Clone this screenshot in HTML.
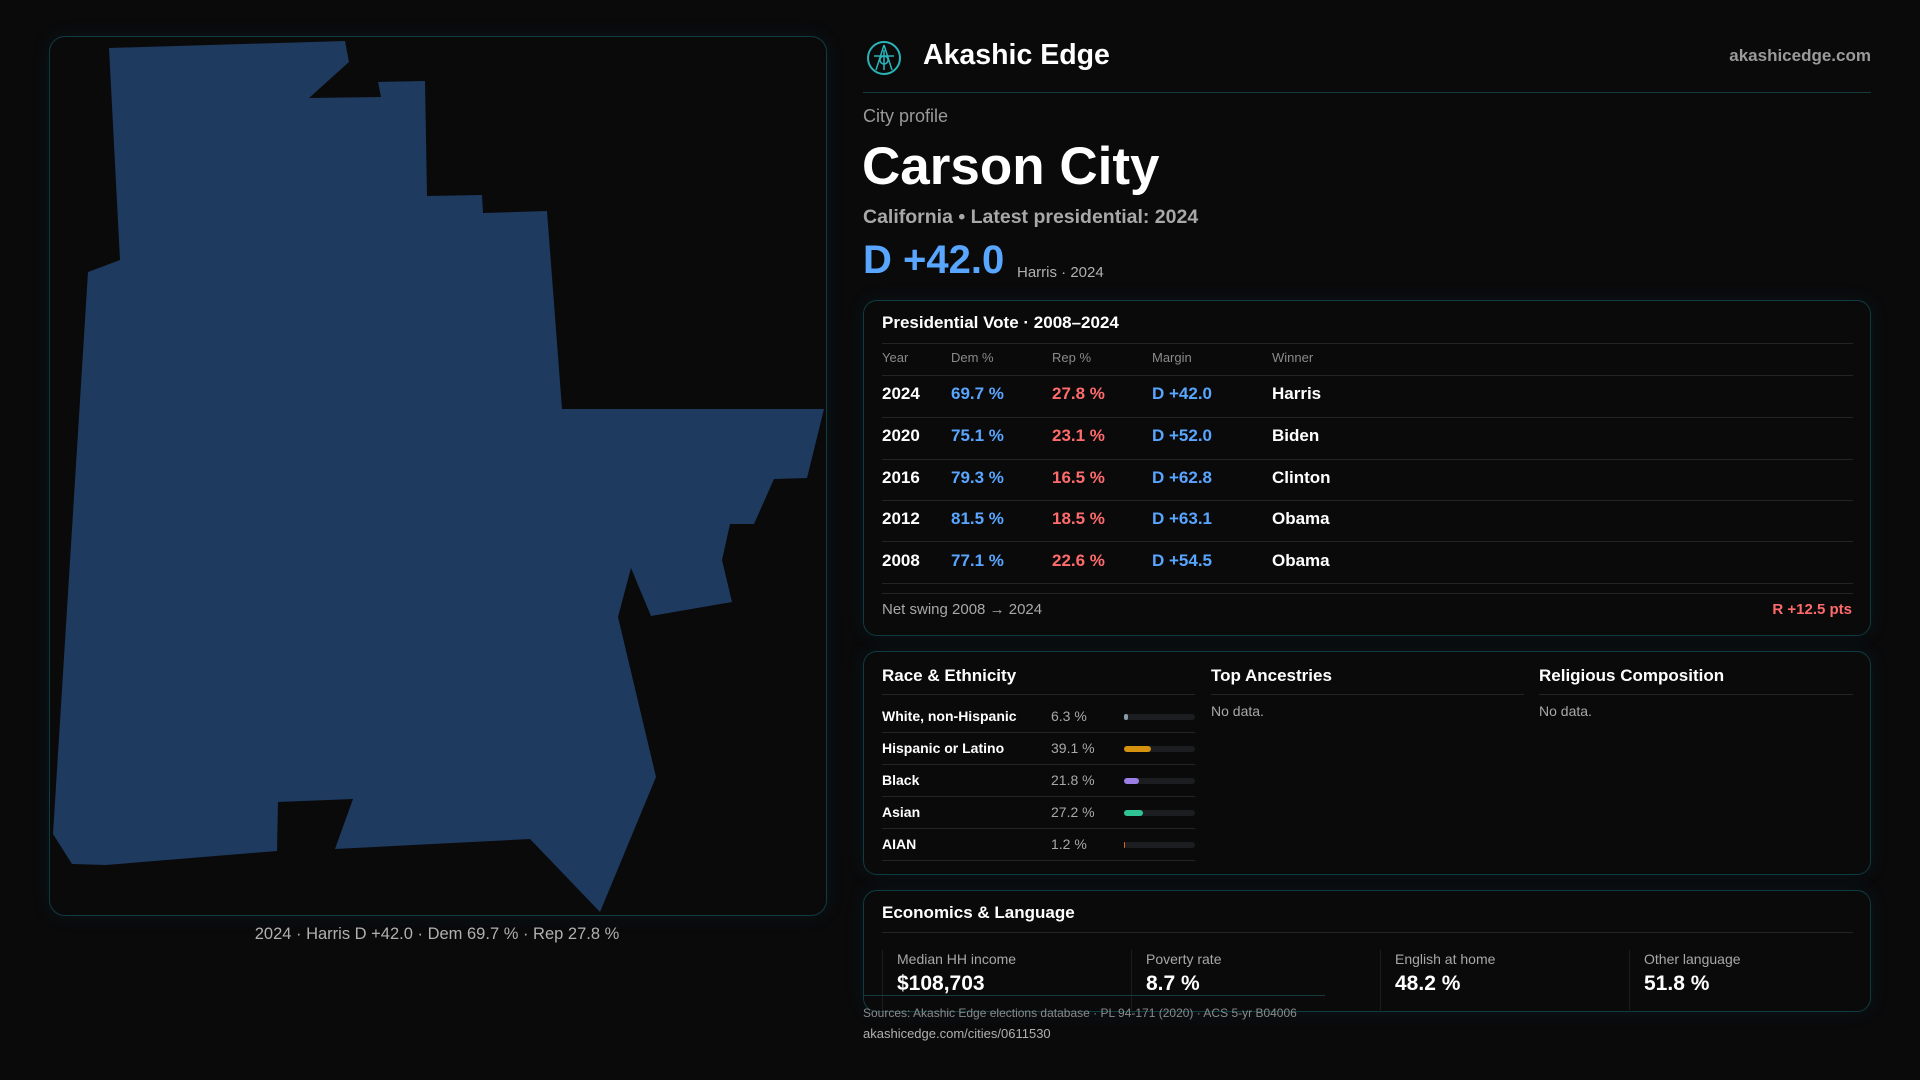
<!DOCTYPE html>
<html><head><meta charset="utf-8"><style>
*{margin:0;padding:0;box-sizing:border-box}
body{width:1920px;height:1080px;background:#0a0a0b;font-family:"Liberation Sans",sans-serif;color:#fff;position:relative;overflow:hidden}
.a{position:absolute;white-space:nowrap}
.card{position:absolute;border:1px solid #0f3b42;border-radius:14px;background:#0a0a0b;box-shadow:0 0 18px rgba(20,90,100,0.15)}
.hl{position:absolute;height:1px;background:#222426}
.g{color:#9a9a9a}
.b{color:#58a6ff}
.r{color:#ff6b6b}
.th{font-size:13px;color:#8a8a8a}
.td{font-size:17px;font-weight:bold}
.rl{font-size:14px;font-weight:bold}
.bar{position:absolute;height:6px;border-radius:3px;background:#1c1d20;width:71px;left:1124px}
.bar i{display:block;height:6px;border-radius:3px}
</style></head><body>
<div class="card" style="left:49px;top:36px;width:778px;height:880px;border-radius:16px"></div>
<svg class="a" style="left:0;top:0" width="1920" height="1080">
<polygon fill="#1e3a5f" points="109,48 345,41 349,62 309,98 381,97 378,82 425,81 427,196 482,195 483,213 547,211 562,409 824,409 807,478 774,479 754,524 730,524 722,560 732,602 651,616 631,568 618,617 656,777 600,912 530,839 335,849 353,799 278,802 277,851 106,865 72,864 53,834 88,272 120,260"/>
</svg>
<div class="a g" style="left:0;width:874px;text-align:center;top:925px;font-size:16.5px;color:#b0b0b0">2024 · Harris D +42.0 · Dem 69.7 % · Rep 27.8 %</div>

<svg class="a" style="left:866px;top:40px" width="36" height="36" viewBox="0 0 36 36"><circle cx="18" cy="18" r="16" fill="none" stroke="#2bb3b8" stroke-width="2"/><path d="M18 5 L10 30 M18 5 L26 30 M8 16 L28 16 M18 10 L18 30" stroke="#2bb3b8" stroke-width="1.5" fill="none"/><circle cx="18" cy="20" r="4" fill="none" stroke="#2bb3b8" stroke-width="1.5"/></svg>
<div class="a" style="left:923px;top:39px;font-size:28.5px;font-weight:bold">Akashic Edge</div>
<div class="a" style="right:49px;top:46px;font-size:17px;font-weight:bold;color:#9a9a9a">akashicedge.com</div>
<div class="hl" style="left:863px;width:1008px;top:92px;background:#173a40"></div>
<div class="a" style="left:863px;top:106px;font-size:18px;color:#9a9a9a">City profile</div>
<div class="a" style="left:862px;top:136px;font-size:53px;font-weight:bold">Carson City</div>
<div class="a" style="left:863px;top:206px;font-size:19.5px;font-weight:bold;color:#a8a8a8">California • Latest presidential: 2024</div>
<div class="a b" style="left:863px;top:238px;font-size:40px;font-weight:bold">D +42.0</div>
<div class="a" style="left:1017px;top:264px;font-size:15px;color:#b0b0b0">Harris · 2024</div>

<div class="card" style="left:863px;top:300px;width:1008px;height:336px"></div>
<div class="a" style="left:882px;top:313px;font-size:17px;font-weight:bold">Presidential Vote · 2008–2024</div>
<div class="hl" style="left:882px;width:971px;top:343px"></div>
<div class="a th" style="left:882px;top:350px">Year</div><div class="a th" style="left:951px;top:350px">Dem %</div><div class="a th" style="left:1052px;top:350px">Rep %</div><div class="a th" style="left:1152px;top:350px">Margin</div><div class="a th" style="left:1272px;top:350px">Winner</div>
<div class="hl" style="left:882px;width:971px;top:375px"></div>
<div class="a td" style="left:882px;top:384px">2024</div><div class="a td b" style="left:951px;top:384px">69.7 %</div><div class="a td r" style="left:1052px;top:384px">27.8 %</div><div class="a td b" style="left:1152px;top:384px">D +42.0</div><div class="a td" style="left:1272px;top:384px">Harris</div>
<div class="hl" style="left:882px;width:971px;top:417px"></div>
<div class="a td" style="left:882px;top:426px">2020</div><div class="a td b" style="left:951px;top:426px">75.1 %</div><div class="a td r" style="left:1052px;top:426px">23.1 %</div><div class="a td b" style="left:1152px;top:426px">D +52.0</div><div class="a td" style="left:1272px;top:426px">Biden</div>
<div class="hl" style="left:882px;width:971px;top:459px"></div>
<div class="a td" style="left:882px;top:468px">2016</div><div class="a td b" style="left:951px;top:468px">79.3 %</div><div class="a td r" style="left:1052px;top:468px">16.5 %</div><div class="a td b" style="left:1152px;top:468px">D +62.8</div><div class="a td" style="left:1272px;top:468px">Clinton</div>
<div class="hl" style="left:882px;width:971px;top:500px"></div>
<div class="a td" style="left:882px;top:509px">2012</div><div class="a td b" style="left:951px;top:509px">81.5 %</div><div class="a td r" style="left:1052px;top:509px">18.5 %</div><div class="a td b" style="left:1152px;top:509px">D +63.1</div><div class="a td" style="left:1272px;top:509px">Obama</div>
<div class="hl" style="left:882px;width:971px;top:541px"></div>
<div class="a td" style="left:882px;top:551px">2008</div><div class="a td b" style="left:951px;top:551px">77.1 %</div><div class="a td r" style="left:1052px;top:551px">22.6 %</div><div class="a td b" style="left:1152px;top:551px">D +54.5</div><div class="a td" style="left:1272px;top:551px">Obama</div>
<div class="hl" style="left:882px;width:971px;top:583px"></div>
<div class="hl" style="left:882px;width:971px;top:593px"></div>
<div class="a" style="left:882px;top:601px;font-size:15px;color:#a8a8a8">Net swing 2008 → 2024</div>
<div class="a r" style="right:68px;top:601px;font-size:15px;font-weight:bold">R +12.5 pts</div>

<div class="card" style="left:863px;top:651px;width:1008px;height:224px"></div>
<div class="a" style="left:882px;top:666px;font-size:17px;font-weight:bold">Race &amp; Ethnicity</div>
<div class="a" style="left:1211px;top:666px;font-size:17px;font-weight:bold">Top Ancestries</div>
<div class="a" style="left:1539px;top:666px;font-size:17px;font-weight:bold">Religious Composition</div>
<div class="hl" style="left:882px;width:313px;top:694px"></div>
<div class="hl" style="left:1211px;width:313px;top:694px"></div>
<div class="hl" style="left:1539px;width:314px;top:694px"></div>
<div class="a" style="left:1211px;top:703px;font-size:14px;color:#a8a8a8">No data.</div>
<div class="a" style="left:1539px;top:703px;font-size:14px;color:#a8a8a8">No data.</div>
<div class="a rl" style="left:882px;top:708px">White, non-Hispanic</div><div class="a" style="left:1051px;top:708px;font-size:14px;color:#a8a8a8">6.3 %</div><div class="bar" style="top:714px"><i style="width:4px;background:#8a9aa8"></i></div>
<div class="hl" style="left:882px;width:313px;top:732px"></div>
<div class="a rl" style="left:882px;top:740px">Hispanic or Latino</div><div class="a" style="left:1051px;top:740px;font-size:14px;color:#a8a8a8">39.1 %</div><div class="bar" style="top:746px"><i style="width:27px;background:#d4920f"></i></div>
<div class="hl" style="left:882px;width:313px;top:764px"></div>
<div class="a rl" style="left:882px;top:772px">Black</div><div class="a" style="left:1051px;top:772px;font-size:14px;color:#a8a8a8">21.8 %</div><div class="bar" style="top:778px"><i style="width:15px;background:#9b7fe6"></i></div>
<div class="hl" style="left:882px;width:313px;top:796px"></div>
<div class="a rl" style="left:882px;top:804px">Asian</div><div class="a" style="left:1051px;top:804px;font-size:14px;color:#a8a8a8">27.2 %</div><div class="bar" style="top:810px"><i style="width:19px;background:#2fc394"></i></div>
<div class="hl" style="left:882px;width:313px;top:828px"></div>
<div class="a rl" style="left:882px;top:836px">AIAN</div><div class="a" style="left:1051px;top:836px;font-size:14px;color:#a8a8a8">1.2 %</div><div class="bar" style="top:842px"><i style="width:1px;background:#d46a2a"></i></div>
<div class="hl" style="left:882px;width:313px;top:860px"></div>

<div class="card" style="left:863px;top:890px;width:1008px;height:122px"></div>
<div class="a" style="left:882px;top:903px;font-size:17px;font-weight:bold">Economics &amp; Language</div>
<div class="hl" style="left:882px;width:971px;top:932px"></div>
<div class="a" style="left:882px;top:950px;width:1px;height:60px;background:#1c1d20"></div>
<div class="a" style="left:1131px;top:950px;width:1px;height:60px;background:#1c1d20"></div>
<div class="a" style="left:1380px;top:950px;width:1px;height:60px;background:#1c1d20"></div>
<div class="a" style="left:1629px;top:950px;width:1px;height:60px;background:#1c1d20"></div>
<div class="a" style="left:897px;top:951px;font-size:14px;color:#a8a8a8">Median HH income</div><div class="a" style="left:897px;top:972px;font-size:21px;font-weight:bold">$108,703</div>
<div class="a" style="left:1146px;top:951px;font-size:14px;color:#a8a8a8">Poverty rate</div><div class="a" style="left:1146px;top:972px;font-size:21px;font-weight:bold">8.7 %</div>
<div class="a" style="left:1395px;top:951px;font-size:14px;color:#a8a8a8">English at home</div><div class="a" style="left:1395px;top:972px;font-size:21px;font-weight:bold">48.2 %</div>
<div class="a" style="left:1644px;top:951px;font-size:14px;color:#a8a8a8">Other language</div><div class="a" style="left:1644px;top:972px;font-size:21px;font-weight:bold">51.8 %</div>
<div class="hl" style="left:863px;width:462px;top:995px;background:#173a40"></div>
<div class="a" style="left:863px;top:1006px;font-size:12px;color:#8a8a8a">Sources: Akashic Edge elections database · PL 94-171 (2020) · ACS 5-yr B04006</div>
<div class="a" style="left:863px;top:1026px;font-size:13px;color:#b0b0b0">akashicedge.com/cities/0611530</div>
</body></html>
